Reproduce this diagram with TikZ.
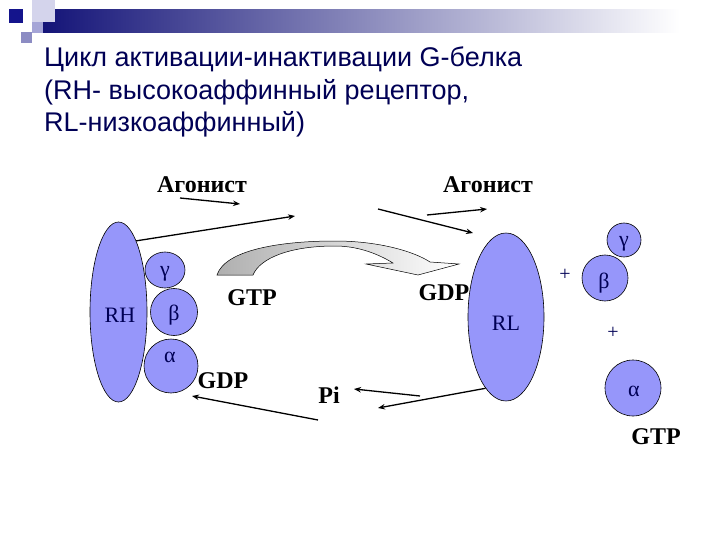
\documentclass[tikz,border=0pt]{standalone}
\usepackage{fontspec}
\setmainfont{Liberation Serif}
\newfontfamily\titlefont{Liberation Sans}
\usetikzlibrary{arrows.meta,shapes.geometric}
\definecolor{lav}{RGB}{150,150,250}
\definecolor{navy}{RGB}{0,0,85}
\definecolor{barnavy}{RGB}{20,20,120}
\definecolor{sqdark}{RGB}{20,20,140}
\definecolor{sqlight}{RGB}{212,212,236}
\definecolor{sqmid}{RGB}{165,165,215}
\definecolor{sqgray}{RGB}{140,140,195}
\definecolor{arrgray}{RGB}{175,175,175}
\begin{document}
\begin{tikzpicture}[x=1pt,y=-1pt,
  prot/.style={ellipse,draw=black,line width=0.6pt,fill=lav,inner sep=0pt},
  protlbl/.style={inner sep=0pt,text=navy,font=\fontsize{22}{22}\selectfont},
  greek/.style={inner sep=0pt,text=navy,font=\fontsize{22}{22}\selectfont},
  lbl/.style={inner sep=0pt,text=black,font=\bfseries\fontsize{24}{24}\selectfont},
  plus/.style={inner sep=0pt,text=navy,font=\fontsize{20}{20}\selectfont},
  arr/.style={line width=1.3pt,-{Stealth[length=7pt,width=5.5pt]}},
  ttl/.style={anchor=base west,inner sep=0pt,text=navy,font=\titlefont\fontsize{27}{27}\selectfont}]
\useasboundingbox[fill=white] (0,0) rectangle (720,540);

% decorations
\shade[left color=barnavy,right color=white] (43,10) rectangle (680,33);
\fill[sqlight] (32,0) rectangle (55,22);
\fill[sqmid] (32,22) rectangle (43,33);
\fill[sqdark] (9,9) rectangle (23,23);
\fill[sqgray] (21,32) rectangle (32,43);

% title
\node[ttl] (t1) at (44,67) {Цикл активации-инактивации G-белка};
\node[ttl] (t2) at (44,100) {(RH- высокоаффинный рецептор,};
\node[ttl] (t3) at (44,132) {RL-низкоаффинный)};

% big curved arrow
\draw[line width=0.5pt,shading=axis,left color=arrgray,right color=white]
  (217,275) .. controls (225,250) and (280,241) .. (335,241)
  .. controls (380,241) and (415,252) .. (430,262)
  -- (459,264) -- (418,275) -- (366,264) -- (393,263)
  .. controls (375,252) and (355,246) .. (335,246)
  .. controls (290,246) and (260,258) .. (253,275) -- cycle;

% left complex
\node[prot,minimum width=57,minimum height=180] (RH) at (118.5,312) {};
\node[prot,minimum width=40,minimum height=36] (gL) at (165,270) {};
\node[prot,minimum size=47] (bL) at (174,312) {};
\node[prot,minimum size=54] (aL) at (171,366) {};
\node[protlbl] (RHt) at (120,315) {RH};
\node[greek] (gLt) at (165,274) {γ};
\node[greek] (bLt) at (174,315) {β};
\node[greek] (aLt) at (170,357) {α};

% right side
\node[prot,minimum width=76,minimum height=168] (RL) at (506,317) {};
\node[protlbl] (RLt) at (506,323) {RL};
\node[prot,minimum size=34] (gR) at (624,240) {};
\node[prot,minimum size=46] (bR) at (605,278) {};
\node[prot,minimum size=56] (aR) at (633,388) {};
\node[greek] (gRt) at (624,244) {γ};
\node[greek] (bRt) at (604,283) {β};
\node[greek] (aRt) at (634,391) {α};
\node[plus] (p1) at (565,275) {+};
\node[plus] (p2) at (613,333) {+};

% labels
\node[lbl] (ag1) at (202,185) {Агонист};
\node[lbl] (ag2) at (488,185) {Агонист};
\node[lbl] (gtp1) at (252,298) {GTP};
\node[lbl] (gdp1) at (444,293) {GDP};
\node[lbl] (gdp2) at (223,381) {GDP};
\node[lbl] (pi) at (329,395) {Pi};
\node[lbl] (gtp2) at (656,437) {GTP};

% arrows
\coordinate (a1s) at (180,198); \coordinate (a1e) at (240,204);
\coordinate (a2e) at (295,216);
\coordinate (a3s) at (378,209); \coordinate (a3e) at (473,233);
\coordinate (a4s) at (427,215); \coordinate (a4e) at (487,209);
\coordinate (a5e) at (378,408);
\coordinate (a6s) at (420,396); \coordinate (a6e) at (354,389);
\coordinate (a7s) at (318,420); \coordinate (a7e) at (192,396);
\draw[arr] (a1s) -- (a1e);
\draw[arr] (RH.76) -- (a2e);
\draw[arr] (a3s) -- (a3e);
\draw[arr] (a4s) -- (a4e);
\draw[arr] (RL.254) -- (a5e);
\draw[arr] (a6s) -- (a6e);
\draw[arr] (a7s) -- (a7e);
\end{tikzpicture}
\end{document}
